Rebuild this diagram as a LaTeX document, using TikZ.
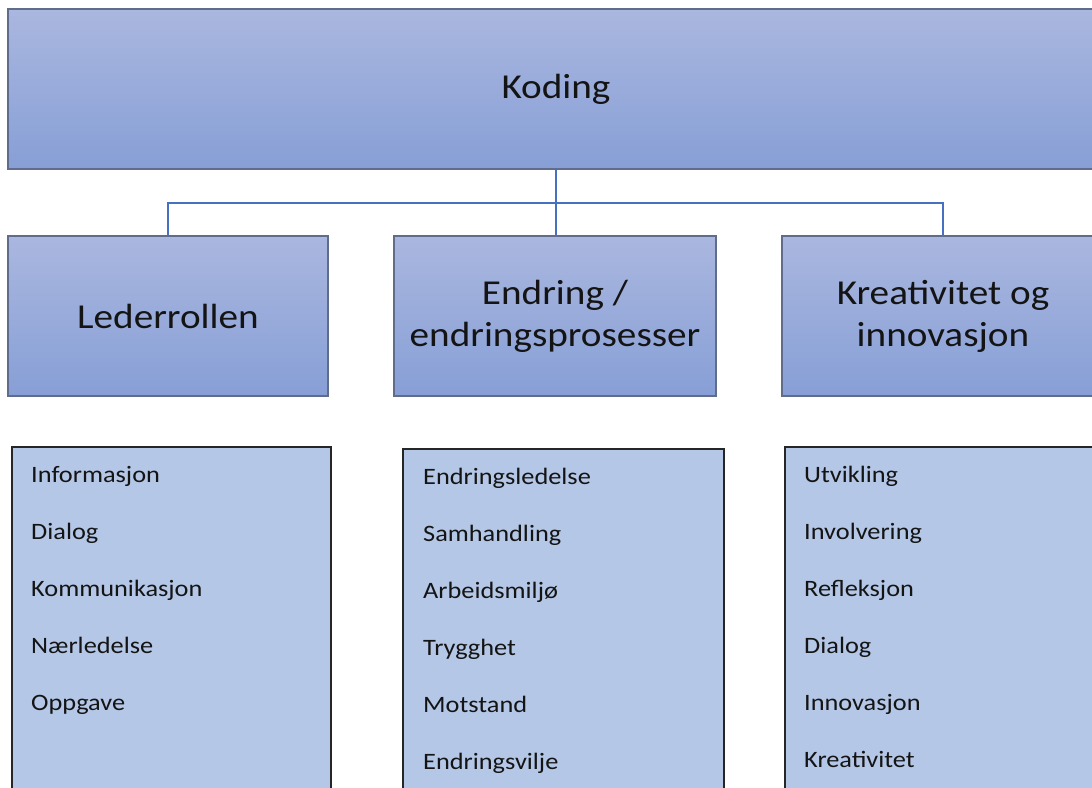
\documentclass[tikz,border=0pt]{standalone}
\usepackage{fontspec}
\setmainfont{Carlito}[FakeStretch=1.12]
\usetikzlibrary{positioning}
\definecolor{headtop}{RGB}{170,183,223}
\definecolor{headbot}{RGB}{135,159,214}
\definecolor{headedge}{RGB}{95,108,140}
\definecolor{listfill}{RGB}{180,199,231}
\definecolor{linkblue}{RGB}{70,112,192}
\definecolor{ink}{RGB}{20,20,20}
\tikzset{
  headbox/.style={draw=headedge, line width=1.4pt, top color=headtop, bottom color=headbot,
    anchor=north west, inner sep=0pt, outer sep=0pt, align=center, text=ink,
    font=\fontsize{35}{42}\selectfont},
  listbox/.style={draw=black!85, line width=1.2pt, fill=listfill, anchor=north west,
    inner sep=0pt, outer sep=0pt},
  item/.style={anchor=base west, inner sep=0pt, text=ink, font=\fontsize{23.5}{28}\selectfont},
  link/.style={draw=linkblue, line width=1.8pt}
}
\begin{document}
\begin{tikzpicture}[x=1pt,y=-1pt]
\useasboundingbox (0,0) rectangle (1092,787);
\clip (0,0) rectangle (1092,787);
\fill[white] (0,0) rectangle (1092,787);

% top level
\node[headbox, minimum width=1096pt, minimum height=160pt] (top) at (8,9) {Koding};

% second level
\node[headbox, minimum width=320pt, minimum height=160pt] (m1) at (8,236) {Lederrollen};
\node[headbox, minimum width=322pt, minimum height=160pt] (m2) at (394,236) {Endring /\\endringsprosesser};
\node[headbox, minimum width=322pt, minimum height=160pt] (m3) at (782,236) {Kreativitet og\\innovasjon};

% connectors
\coordinate (bus) at (0,203);
\draw[link] (top.south) -- (top.south |- m2.north);
\draw[link] (m1.north) -- (m1.north |- bus) -- (m3.north |- bus) -- (m3.north);

% list boxes
\node[listbox, minimum width=319pt, minimum height=360pt] (l1) at (12,447) {};
\node[listbox, minimum width=321pt, minimum height=360pt] (l2) at (403,449) {};
\node[listbox, minimum width=330pt, minimum height=360pt] (l3) at (785,447) {};

% first list
\node[item] (a1) at (31,482) {Informasjon};
\node[item] (a2) at (31,539) {Dialog};
\node[item] (a3) at (31,596) {Kommunikasjon};
\node[item] (a4) at (31,653) {Nærledelse};
\node[item] (a5) at (31,710) {Oppgave};

% second list
\node[item] (b1) at (423,484) {Endringsledelse};
\node[item] (b2) at (423,541) {Samhandling};
\node[item] (b3) at (423,598) {Arbeidsmiljø};
\node[item] (b4) at (423,655) {Trygghet};
\node[item] (b5) at (423,712) {Motstand};
\node[item] (b6) at (423,769) {Endringsvilje};

% third list
\node[item] (c1) at (804,482) {Utvikling};
\node[item] (c2) at (804,539) {Involvering};
\node[item] (c3) at (804,596) {Refleksjon};
\node[item] (c4) at (804,653) {Dialog};
\node[item] (c5) at (804,710) {Innovasjon};
\node[item] (c6) at (804,767) {Kreativitet};
\end{tikzpicture}
\end{document}
